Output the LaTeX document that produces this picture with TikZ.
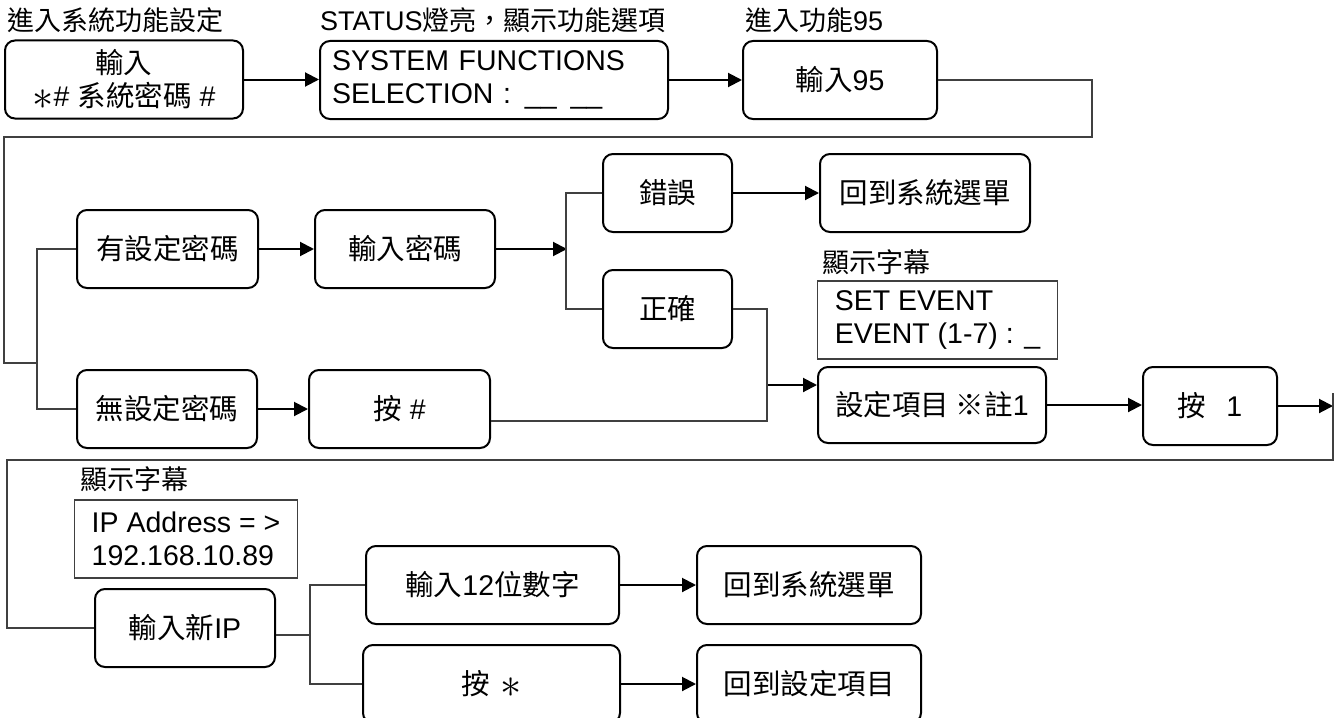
\documentclass[tikz,border=0pt]{standalone}
\usepackage{fontspec}
\usepackage{graphicx}
\setmainfont{Liberation Sans}
\newfontfamily\cjk{Noto Sans CJK TC}
\usetikzlibrary{arrows.meta}
\newcommand{\zh}[1]{{\cjk #1}}
\newcommand{\bigast}{\raisebox{-3pt}{\scalebox{1.7}{$\ast$}}}
\newcommand{\boxfont}{\fontsize{28.5}{33}\selectfont}
\newcommand{\hintfont}{\fontsize{27}{30}\selectfont}

\begin{document}
\begin{tikzpicture}[x=1pt,y=-1pt,
  box/.style={draw,line width=2pt,rounded corners=10pt,minimum height=78pt,inner sep=0pt,align=center,font=\boxfont},
  panel/.style={draw=black!75,line width=1.3pt,minimum height=78pt,inner xsep=17pt,inner ysep=0pt,align=left,font=\boxfont},
  note/.style={anchor=base west,inner sep=0pt,font=\hintfont},
  arr/.style={line width=2pt,-{Triangle[length=14pt,width=14pt]}},
  wire/.style={line width=1.3pt,draw=black!75}]
  \useasboundingbox (0,0) rectangle (1335,717);
  \clip (0,0) rectangle (1335,717);

  \node[note] (tEnter) at (7,31) {\zh{進入系統功能設定}};
  \node[note] (tStatus) at (320,31) {STATUS\zh{燈亮，顯示功能選項}};
  \node[note] (tFn95) at (745,31) {\zh{進入功能}95};
  \node[box,minimum width=238pt] (login) at (124,79.5) {\zh{輸入}\\\bigast\#\hspace{8pt}\zh{系統密碼}\hspace{8pt}\#};
  \node[box,inner xsep=12pt,text width=324pt,align=left] (sysfn) at (494,80) {SYSTEM FUNCTIONS\\SELECTION :\hspace{14pt}\_\_\hspace{14pt}\_\_};
  \node[box,minimum width=194pt] (fn95) at (840,80) {\zh{輸入}95};

  \node[box,minimum width=181pt] (haspw) at (167.5,249) {\zh{有設定密碼}};
  \node[box,minimum width=180pt] (inpw) at (405,249) {\zh{輸入密碼}};
  \node[box,minimum width=129pt] (wrong) at (667.5,193) {\zh{錯誤}};
  \node[box,minimum width=210pt] (back1) at (925,193) {\zh{回到系統選單}};
  \node[box,minimum width=129pt] (right) at (667.5,309) {\zh{正確}};
  \node[box,minimum width=180pt] (nopw) at (167,409) {\zh{無設定密碼}};
  \node[box,minimum width=181pt] (hash) at (399.5,409) {\zh{按}\ \#};
  \node[note] (tShow1) at (822,272) {\zh{顯示字幕}};
  \node[panel,minimum width=239pt] (evt) at (937.5,320) {SET EVENT\\EVENT (1-7) : \_};
  \node[box,minimum width=228pt,minimum height=76pt] (setitem) at (932,405) {\zh{設定項目 ※註}1};
  \node[box,minimum width=134pt] (press1) at (1210,406) {\zh{按}\hspace{20pt}1};

  \node[note] (tShow2) at (80,489) {\zh{顯示字幕}};
  \node[panel,minimum width=220pt] (ip) at (186,539) {IP Address = >\\192.168.10.89};
  \node[box,minimum width=180pt] (newip) at (185,628) {\zh{輸入新}IP};
  \node[box,minimum width=253pt] (in12) at (492.5,585) {\zh{輸入}12\zh{位數字}};
  \node[box,minimum width=224pt] (back2) at (809,585) {\zh{回到系統選單}};
  \node[box,minimum width=257pt] (star) at (491.5,684) {\zh{按}\hspace{10pt}\bigast};
  \node[box,minimum width=224pt] (back3) at (809,684) {\zh{回到設定項目}};

  \coordinate (loopA) at (1092,137);
  \coordinate (loopB) at (4,363);
  \coordinate (sp1) at (567,249);
  \coordinate (join) at (767,385);
  \coordinate (turnR) at (1333,393);
  \coordinate (turnL) at (7,460);
  \coordinate (sp3) at (310,635);

  \foreach \a/\b in {login/sysfn,sysfn/fn95,haspw/inpw,nopw/hash,wrong/back1,setitem/press1,in12/back2,star/back3}
    \draw[arr] (\a.east) -- (\a.east -| \b.west);
  \draw[arr] (inpw.east) -- (sp1);
  \draw[arr] (join) -- (join -| setitem.west);
  \draw[arr] (press1.east) -- (press1.east -| turnR);

  \draw[wire] (fn95.east) -| (loopA) -| (loopB) -- ++(34,0);
  \draw[wire] (haspw.west) -- ++(-39,0) |- (nopw.west);
  \draw[wire] (wrong.west) -- ++(-36,0) |- (right.west);
  \draw[wire] (right.east) -| (join);
  \draw[wire] ([yshift=-12pt]hash.east) -| (join);
  \draw[wire] (turnR) |- (turnL) |- (newip.west);
  \draw[wire] ([yshift=-7pt]newip.east) -- (sp3);
  \draw[wire] (in12.west) -| (sp3) |- (star.west);
\end{tikzpicture}
\end{document}
